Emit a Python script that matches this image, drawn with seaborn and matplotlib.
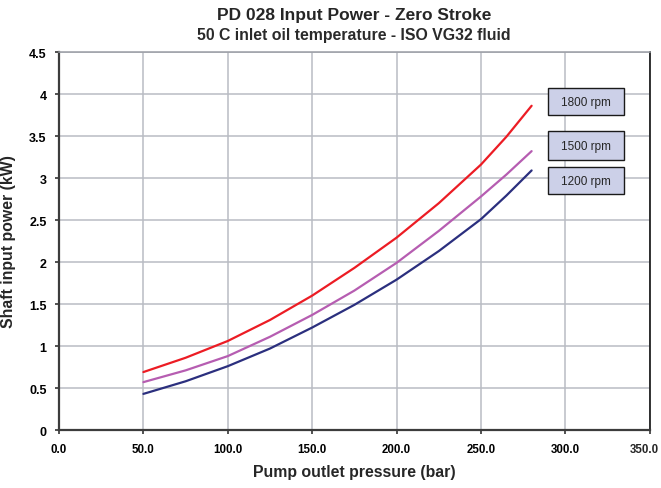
import matplotlib
matplotlib.use('Agg')
import matplotlib.pyplot as plt
import matplotlib.patches as mpatches
import pandas as pd
import seaborn as sns

# pressure (bar)
pressure = [50, 75, 100, 125, 150, 175, 200, 225, 250, 265, 280]
power_1800 = [0.69, 0.86, 1.06, 1.31, 1.60, 1.93, 2.29, 2.70, 3.16, 3.49, 3.86]
power_1500 = [0.57, 0.71, 0.88, 1.11, 1.37, 1.66, 1.99, 2.37, 2.78, 3.04, 3.32]
power_1200 = [0.43, 0.58, 0.76, 0.97, 1.22, 1.49, 1.79, 2.13, 2.51, 2.79, 3.09]
speeds = ['1800 rpm', '1500 rpm', '1200 rpm']
colors = {'1800 rpm': '#ec1c24', '1500 rpm': '#b65db1', '1200 rpm': '#2b2f7e'}
xticks = [0, 50, 100, 150, 200, 250, 300, 350]
yticks = [0, 0.5, 1, 1.5, 2, 2.5, 3, 3.5, 4, 4.5]

df = pd.concat([
    pd.DataFrame({'pressure': pressure, 'power': power_1800, 'speed': '1800 rpm'}),
    pd.DataFrame({'pressure': pressure, 'power': power_1500, 'speed': '1500 rpm'}),
    pd.DataFrame({'pressure': pressure, 'power': power_1200, 'speed': '1200 rpm'}),
])

sns.set_style('white')
plt.rcParams['font.family'] = ['Liberation Sans', 'DejaVu Sans']

fig = plt.figure(figsize=(6.61, 4.89), dpi=100)
ax = fig.add_axes([0.0893, 0.1186, 0.8937, 0.773])

sns.lineplot(data=df, x='pressure', y='power', hue='speed', palette=colors,
             linewidth=1.6, legend=False, ax=ax, zorder=3)

ax.set_xlim(0, 350)
ax.set_ylim(0, 4.5)
ax.set_xticks(xticks)
# last label is drawn by hand so it stays inside the figure
ax.set_xticklabels([f'{v:.1f}' for v in xticks[:-1]] + [''])
ax.set_yticks(yticks)
ax.set_yticklabels([f'{v:g}' for v in yticks])
ax.grid(True, color='#b9bcc3', linewidth=1.1)
ax.tick_params(axis='both', direction='out', length=3, width=1.2,
               colors='#333333', labelcolor='black', left=True, bottom=True, pad=6)
ax.tick_params(axis='y', labelsize=9)
ax.tick_params(axis='x', labelsize=8.3)
for lbl in ax.get_xticklabels() + ax.get_yticklabels():
    lbl.set_fontweight('bold')
ax.annotate(f'{xticks[-1]:.1f}', xy=(xticks[-1], 0), xycoords=('data', 'axes fraction'),
            xytext=(6.5, -9), textcoords='offset points', ha='right', va='top',
            fontsize=8.3, fontweight='bold', annotation_clip=False)

for side in ['left', 'bottom']:
    ax.spines[side].set_color('#3c3c3c')
    ax.spines[side].set_linewidth(1.6)
ax.spines['right'].set_color('#111111')
ax.spines['right'].set_linewidth(1.2)
ax.spines['top'].set_color('#9a9da4')
ax.spines['top'].set_linewidth(1.1)

ax.set_xlabel('Pump outlet pressure (bar)', fontsize=11.4, fontweight='bold', labelpad=7)
ax.set_ylabel('Shaft input power (kW)', fontsize=11.4, fontweight='bold', labelpad=9)

fig.text(0.536, 0.968, 'PD 028 Input Power - Zero Stroke', ha='center', va='center',
         fontsize=12.5, fontweight='bold')
fig.text(0.536, 0.927, '50 C inlet oil temperature - ISO VG32 fluid', ha='center',
         va='center', fontsize=11.4, fontweight='bold', color='#2a2a2a')

# speed label boxes
boxes = {'1800 rpm': (3.75, 4.07), '1500 rpm': (3.21, 3.56), '1200 rpm': (2.81, 3.13)}
for s in speeds:
    y0, y1 = boxes[s]
    ax.add_patch(mpatches.Rectangle((289.5, y0), 45, y1 - y0, facecolor='#ccd0e8',
                                    edgecolor='#1a1a1a', linewidth=1.0, zorder=4))
    ax.text(312, (y0 + y1) / 2, s, ha='center', va='center', fontsize=8.5, zorder=5)

fig.savefig('out.png', dpi=100)
